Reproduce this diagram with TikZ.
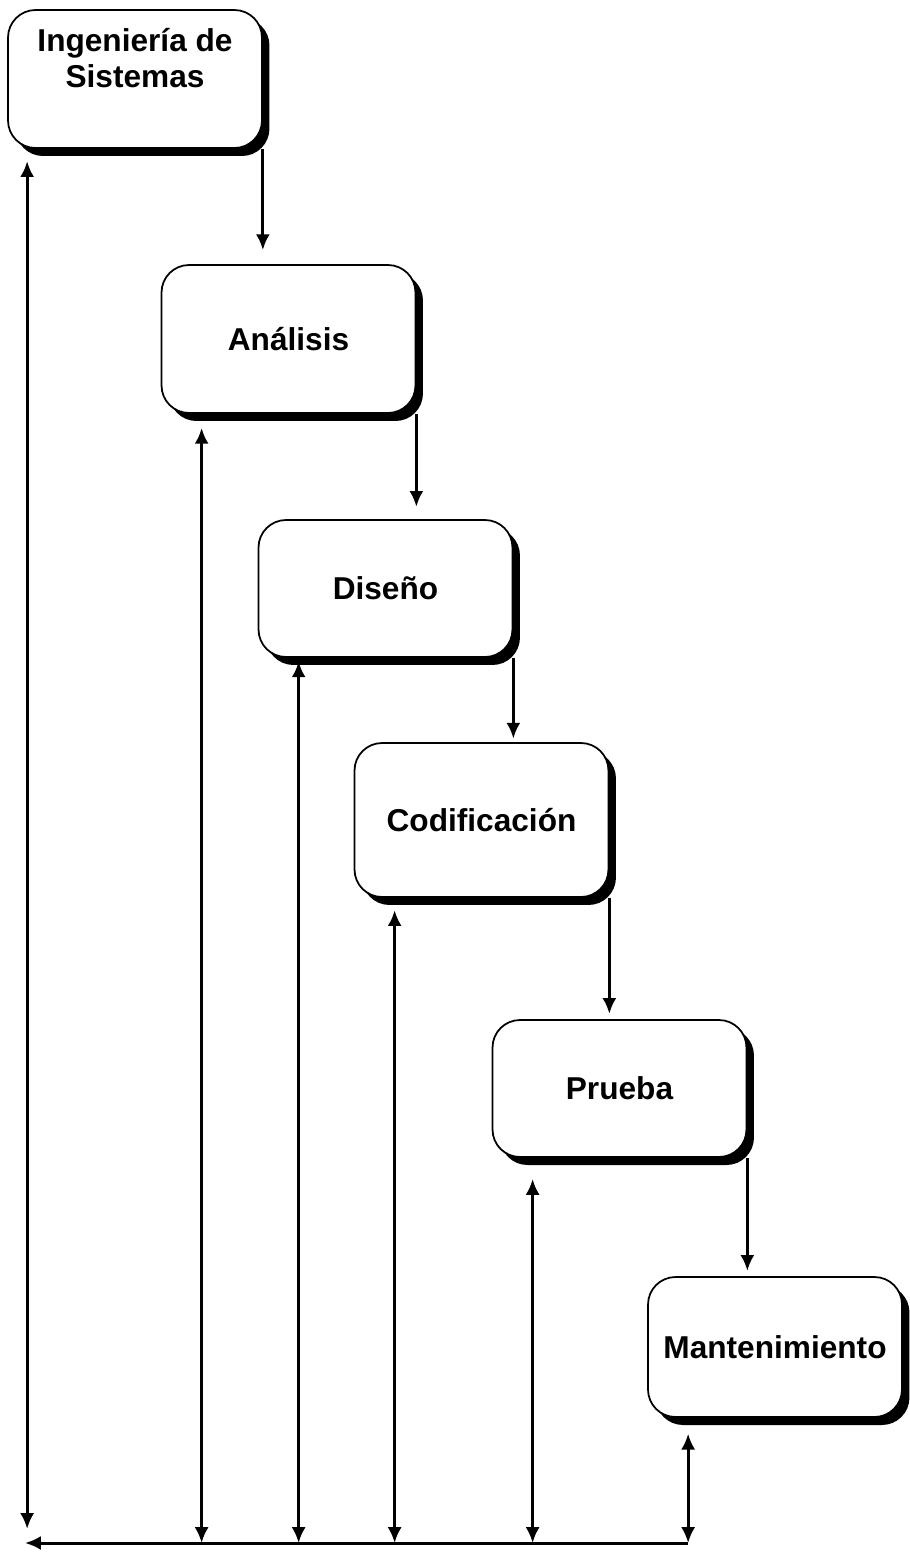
\documentclass[tikz,border=0pt]{standalone}
\usepackage{fontspec}
\setmainfont{Liberation Sans}
\usetikzlibrary{arrows.meta, shadows}
\tikzset{>={Latex[length=9pt, width=8pt]}}
\tikzset{
    fase/.style={draw, line width=1pt, fill=white, rounded corners=.55cm, minimum width=5.08cm, inner sep=0pt, align=center,
        font=\fontsize{18}{20}\selectfont\bfseries,
        drop shadow={shadow xshift=.15cm, shadow yshift=-.16cm, fill=black, opacity=1}},
    flujo/.style={->, line width=1.7pt}
}

\begin{document}
\begin{tikzpicture}[x=.02cm, y=-.02cm]
    \useasboundingbox(0, 0)rectangle(910, 1553);
    \node[fase, minimum height=2.76cm](ing)at(135, 79){Ingeniería de\\Sistemas\\[4pt]\mbox{}};
    \node[fase, minimum height=2.96cm](ana)at(288.5, 339){Análisis};
    \node[fase, minimum height=2.74cm](dis)at(385.5, 588.5){Diseño};
    \node[fase, minimum height=3.08cm](cod)at(481.5, 820){Codificación};
    \node[fase, minimum height=2.74cm](pru)at(619.5, 1088.5){Prueba};
    \node[fase, minimum height=2.8cm](man)at(775, 1347){Mantenimiento};
    \coordinate(piso)at(25, 1543);
    \draw[flujo, shorten >=8pt](ing.south east)--(ing.south east |- ana.north);
    \draw[flujo, shorten >=7pt](ana.south east)--(ana.south east |- dis.north);
    \draw[flujo, shorten >=2pt](dis.south east)--(dis.south east |- cod.north);
    \draw[flujo, shorten >=3pt](cod.south east)--(cod.south east |- pru.north);
    \draw[flujo, shorten >=3pt](pru.south east)--(pru.south east |- man.north);
    \draw[flujo, <->, shorten <=8pt, shorten >=7pt]([xshift=.4cm]ing.south west |- piso)--([xshift=.4cm]ing.south west);
    \foreach \f/\d in {ana/8pt, dis/2pt, cod/7pt, pru/12pt, man/9pt}
        \draw[flujo, <->, shorten >=\d]([xshift=.82cm]\f.south west |- piso)--([xshift=.82cm]\f.south west);
    \draw[flujo]([xshift=.82cm]man.south west |- piso)--(piso);
\end{tikzpicture}
\end{document}
